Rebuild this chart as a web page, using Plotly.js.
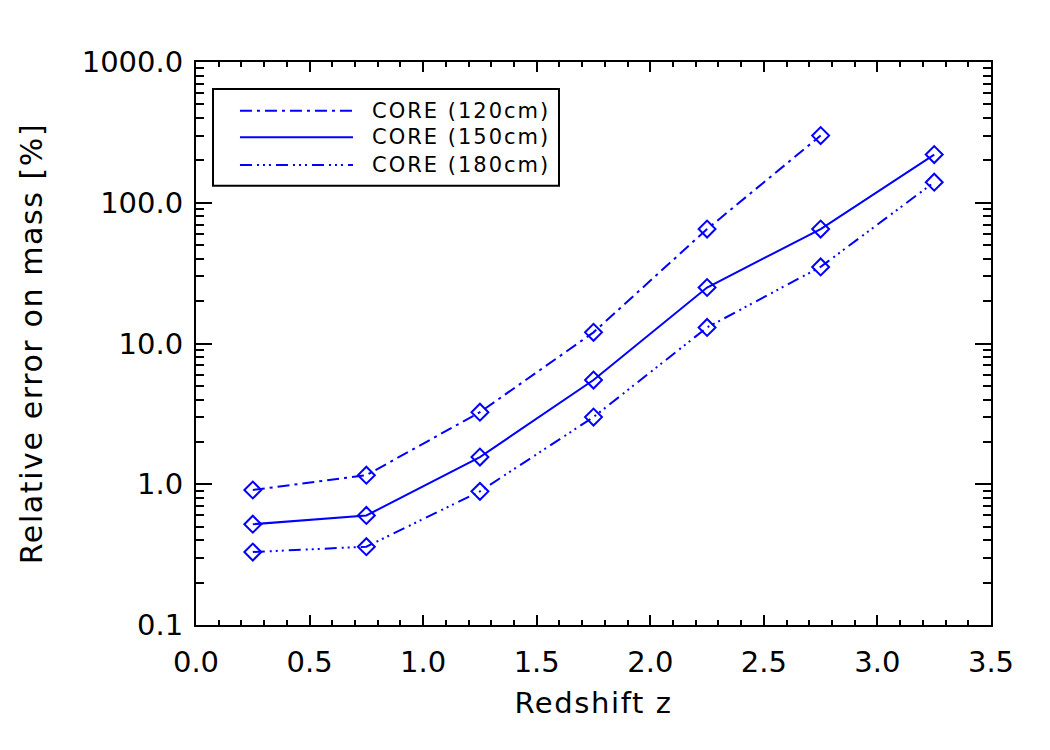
<!DOCTYPE html>
<html>
<head>
<meta charset="utf-8">
<script src="https://cdn.plot.ly/plotly-3.0.1.min.js"></script>
<style>
  html, body { margin: 0; padding: 0; background: #fff; }
  #chart { width: 1050px; height: 750px; }
  /* the original uses a wide vector font; spread the letters a little */
  #chart .xtitle, #chart .ytitle { letter-spacing: 1.6px; }
  #chart .annotation-text { letter-spacing: 2px; }
</style>
</head>
<body>
<div id="chart"></div>
<script>
// redshift bins and relative mass error (%) for each beam size
const redshift = [0.25, 0.75, 1.25, 1.75, 2.25, 2.75, 3.25];
const err120 = [0.91, 1.16, 3.25, 12, 65, 300];
const err150 = [0.52, 0.60, 1.56, 5.5, 25, 65, 220];
const err180 = [0.33, 0.36, 0.89, 3.0, 13, 35, 140];
const seriesNames = ['CORE (120cm)', 'CORE (150cm)', 'CORE (180cm)'];
const dashes = ['12px,5px,3px,5px', 'solid', '12px,5px,2px,4px,2px,4px,2px,5px'];

const blue = '#0000ff';
const font = 'DejaVu Sans, sans-serif';

function trace(y, i) {
  return {
    x: redshift.slice(0, y.length), y: y, name: seriesNames[i],
    type: 'scatter', mode: 'lines+markers', showlegend: false,
    line: { color: blue, width: 2, dash: dashes[i] },
    marker: { symbol: 'diamond-open', size: 13, color: blue, line: { color: blue, width: 2 } }
  };
}

const data = [trace(err120, 0), trace(err150, 1), trace(err180, 2)];

// boxed legend in the upper left, drawn in paper coords (line samples only, no markers)
const legBox = { x0: 0.0214, x1: 0.4566, y0: 0.780, y1: 0.952 };
const legRows = [0.9135, 0.8662, 0.817];
const shapes = [{
  type: 'rect', xref: 'paper', yref: 'paper',
  x0: legBox.x0, x1: legBox.x1, y0: legBox.y0, y1: legBox.y1,
  line: { color: '#000', width: 2 }, fillcolor: '#fff', layer: 'below'
}];
const annotations = [];
seriesNames.forEach((name, i) => {
  shapes.push({
    type: 'line', xref: 'paper', yref: 'paper',
    x0: 0.0553, x1: 0.1975, y0: legRows[i], y1: legRows[i],
    line: { color: blue, width: 2, dash: dashes[i] }
  });
  annotations.push({
    xref: 'paper', yref: 'paper', x: 0.234, y: legRows[i],
    xanchor: 'left', yanchor: 'middle', showarrow: false, text: name,
    font: { family: font, size: 21, color: '#000' }
  });
});

const axisCommon = {
  showgrid: false, zeroline: false, showline: true, linecolor: '#000', linewidth: 2,
  mirror: 'allticks', ticks: 'inside', tickcolor: '#000', tickwidth: 2,
  tickfont: { family: font, size: 29, color: '#000' }
};

const layout = {
  width: 1050, height: 750,
  paper_bgcolor: '#fff', plot_bgcolor: '#fff',
  margin: { l: 196, r: 59, t: 62, b: 125 },
  font: { family: font, color: '#000' },
  showlegend: false,
  shapes: shapes,
  annotations: annotations,
  xaxis: Object.assign({}, axisCommon, {
    range: [0, 3.5], tick0: 0, dtick: 0.5, tickformat: '.1f', ticklen: 10,
    ticklabelstandoff: 10,
    minor: { dtick: 0.1, ticks: 'inside', ticklen: 5, tickwidth: 2, tickcolor: '#000', showgrid: false },
    title: { text: 'Redshift z', font: { family: font, size: 29, color: '#000' }, standoff: 15 }
  }),
  yaxis: Object.assign({}, axisCommon, {
    type: 'log', range: [-1, 3], tick0: 0, dtick: 1, tickformat: '.1f', ticklen: 16,
    ticklabelstandoff: 5,
    minor: { dtick: 'D1', ticks: 'inside', ticklen: 8, tickwidth: 2, tickcolor: '#000', showgrid: false },
    title: { text: 'Relative error on mass [%]', font: { family: font, size: 30, color: '#000' }, standoff: 30 }
  })
};

Plotly.newPlot('chart', data, layout, { displayModeBar: false, staticPlot: true });
</script>
</body>
</html>
